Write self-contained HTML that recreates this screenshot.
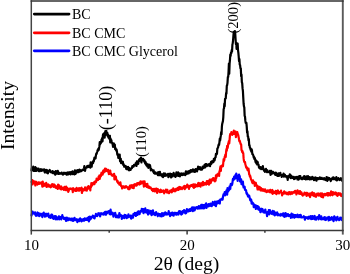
<!DOCTYPE html>
<html><head><meta charset="utf-8"><style>
html,body{margin:0;padding:0;background:#fff;}
svg{display:block;will-change:transform;}
text{font-family:"Liberation Serif",serif;fill:#000;}
</style></head><body>
<svg width="350" height="274" viewBox="0 0 350 274">
<rect x="0" y="0" width="350" height="274" fill="#fff"/>
<g fill="none" stroke-linejoin="round" stroke-linecap="round">
<polyline points="31.50,215.4 31.85,213.9 32.20,213.6 32.55,211.5 32.90,213.3 33.25,213.2 33.60,213.6 33.95,213.0 34.30,213.7 34.65,213.3 35.00,212.4 35.35,214.9 35.70,214.9 36.05,215.9 36.40,214.1 36.75,213.7 37.10,213.6 37.45,212.5 37.80,215.3 38.15,213.1 38.50,213.1 38.85,214.2 39.20,216.1 39.55,214.8 39.90,213.5 40.25,213.9 40.60,215.4 40.95,214.6 41.30,214.0 41.65,214.6 42.00,215.7 42.35,217.1 42.70,213.7 43.05,214.4 43.40,214.3 43.75,212.6 44.10,214.3 44.45,214.2 44.80,216.6 45.15,215.3 45.50,213.8 45.85,216.3 46.20,215.3 46.55,213.9 46.90,215.1 47.25,215.2 47.60,215.0 47.95,216.0 48.30,213.6 48.65,215.8 49.00,217.2 49.35,217.1 49.70,217.4 50.05,217.5 50.40,217.9 50.75,215.3 51.10,217.4 51.45,214.6 51.80,216.0 52.15,214.7 52.50,217.8 52.85,218.2 53.20,216.7 53.55,218.8 53.90,216.3 54.25,217.2 54.60,217.3 54.95,216.1 55.30,217.7 55.65,219.3 56.00,216.3 56.35,218.4 56.70,217.3 57.05,219.4 57.40,218.1 57.75,218.4 58.10,218.4 58.45,218.0 58.80,216.4 59.15,219.3 59.50,216.5 59.85,218.2 60.20,218.7 60.55,217.2 60.90,218.3 61.25,219.4 61.60,218.2 61.95,217.3 62.30,215.2 62.65,217.3 63.00,217.8 63.35,217.9 63.70,217.5 64.05,218.9 64.40,218.0 64.75,218.5 65.10,219.4 65.45,217.8 65.80,218.4 66.15,221.0 66.50,219.7 66.85,217.5 67.20,218.8 67.55,219.5 67.90,220.3 68.25,219.2 68.60,218.5 68.95,218.3 69.30,219.8 69.65,219.5 70.00,218.7 70.35,219.0 70.70,218.8 71.05,220.1 71.40,218.6 71.75,219.9 72.10,220.4 72.45,220.0 72.80,218.7 73.15,221.0 73.50,218.9 73.85,220.1 74.20,218.9 74.55,217.9 74.90,220.1 75.25,220.2 75.60,219.8 75.95,220.2 76.30,219.3 76.65,219.2 77.00,219.9 77.35,222.1 77.70,221.0 78.05,219.6 78.40,220.7 78.75,219.7 79.10,219.7 79.45,221.1 79.80,219.6 80.15,218.4 80.50,219.2 80.85,220.3 81.20,220.3 81.55,221.4 81.90,219.3 82.25,220.8 82.60,220.4 82.95,219.7 83.30,220.7 83.65,220.3 84.00,218.8 84.35,220.7 84.70,218.3 85.05,219.6 85.40,219.4 85.75,219.8 86.10,218.5 86.45,219.1 86.80,218.9 87.15,220.0 87.50,218.0 87.85,218.8 88.20,218.4 88.55,217.2 88.90,221.3 89.25,218.3 89.60,216.7 89.95,219.6 90.30,216.9 90.65,218.3 91.00,218.7 91.35,217.0 91.70,217.1 92.05,216.9 92.40,217.2 92.75,215.5 93.10,215.8 93.45,216.8 93.80,217.9 94.15,217.4 94.50,218.4 94.85,217.2 95.20,215.8 95.55,216.0 95.90,213.9 96.25,214.9 96.60,214.6 96.95,215.8 97.30,216.1 97.65,214.6 98.00,214.4 98.35,213.2 98.70,214.6 99.05,214.8 99.40,214.9 99.75,213.4 100.10,216.3 100.45,215.3 100.80,213.8 101.15,213.2 101.50,213.4 101.85,213.8 102.20,213.5 102.55,213.9 102.90,214.2 103.25,214.7 103.60,214.4 103.95,212.9 104.30,213.3 104.65,212.4 105.00,212.0 105.35,214.7 105.70,211.9 106.05,214.6 106.40,211.8 106.75,212.3 107.10,213.2 107.45,211.9 107.80,212.3 108.15,211.5 108.50,211.3 108.85,211.7 109.20,211.2 109.55,213.9 109.90,212.0 110.25,214.3 110.60,209.5 110.95,212.6 111.30,213.4 111.65,212.6 112.00,214.2 112.35,213.8 112.70,212.9 113.05,213.9 113.40,216.6 113.75,213.9 114.10,214.1 114.45,213.5 114.80,214.2 115.15,212.8 115.50,214.2 115.85,217.2 116.20,215.8 116.55,215.5 116.90,216.1 117.25,217.0 117.60,215.7 117.95,217.4 118.30,216.4 118.65,215.5 119.00,217.3 119.35,213.0 119.70,215.0 120.05,216.0 120.40,214.8 120.75,215.7 121.10,215.3 121.45,215.3 121.80,218.9 122.15,216.8 122.50,216.1 122.85,217.6 123.20,216.0 123.55,217.3 123.90,216.7 124.25,218.1 124.60,214.9 124.95,217.2 125.30,216.5 125.65,215.2 126.00,217.5 126.35,215.5 126.70,218.1 127.05,216.9 127.40,217.1 127.75,216.5 128.10,217.3 128.45,214.4 128.80,216.5 129.15,215.7 129.50,216.7 129.85,216.4 130.20,217.0 130.55,215.5 130.90,218.2 131.25,218.7 131.60,215.9 131.95,216.0 132.30,216.2 132.65,217.1 133.00,217.6 133.35,214.2 133.70,214.6 134.05,214.0 134.40,213.8 134.75,213.0 135.10,215.0 135.45,213.2 135.80,216.0 136.15,215.1 136.50,212.8 136.85,212.6 137.20,212.9 137.55,214.9 137.90,212.2 138.25,211.3 138.60,212.7 138.95,213.0 139.30,211.7 139.65,214.1 140.00,212.4 140.35,212.5 140.70,210.8 141.05,211.6 141.40,211.3 141.75,208.8 142.10,211.5 142.45,209.0 142.80,210.9 143.15,209.2 143.50,213.2 143.85,211.2 144.20,211.8 144.55,211.9 144.90,209.4 145.25,208.4 145.60,210.7 145.95,212.3 146.30,211.5 146.65,212.4 147.00,212.8 147.35,210.2 147.70,212.4 148.05,214.5 148.40,211.8 148.75,210.3 149.10,212.5 149.45,212.3 149.80,213.4 150.15,212.0 150.50,213.2 150.85,210.8 151.20,214.2 151.55,215.1 151.90,214.9 152.25,211.9 152.60,214.0 152.95,210.4 153.30,214.1 153.65,213.8 154.00,212.9 154.35,214.4 154.70,214.2 155.05,215.2 155.40,214.4 155.75,214.5 156.10,212.2 156.45,213.1 156.80,213.9 157.15,214.8 157.50,214.5 157.85,216.2 158.20,213.7 158.55,214.4 158.90,214.9 159.25,214.4 159.60,215.2 159.95,214.1 160.30,216.2 160.65,214.3 161.00,215.9 161.35,214.6 161.70,216.3 162.05,213.1 162.40,215.2 162.75,214.1 163.10,214.8 163.45,215.8 163.80,213.3 164.15,213.1 164.50,213.4 164.85,214.7 165.20,212.3 165.55,214.5 165.90,212.9 166.25,213.0 166.60,213.8 166.95,214.6 167.30,213.5 167.65,213.6 168.00,214.0 168.35,213.8 168.70,211.1 169.05,213.5 169.40,214.0 169.75,215.1 170.10,216.1 170.45,214.6 170.80,213.9 171.15,212.8 171.50,213.9 171.85,214.6 172.20,215.1 172.55,212.7 172.90,213.9 173.25,214.5 173.60,215.7 173.95,213.9 174.30,213.0 174.65,212.8 175.00,213.1 175.35,212.8 175.70,214.4 176.05,214.6 176.40,214.2 176.75,214.7 177.10,212.8 177.45,213.7 177.80,212.8 178.15,213.3 178.50,214.5 178.85,213.1 179.20,211.0 179.55,212.8 179.90,212.2 180.25,211.3 180.60,212.0 180.95,213.9 181.30,214.6 181.65,212.1 182.00,213.7 182.35,213.8 182.70,211.0 183.05,212.2 183.40,212.0 183.75,212.1 184.10,210.0 184.45,211.3 184.80,212.7 185.15,212.8 185.50,213.3 185.85,210.7 186.20,213.1 186.55,211.6 186.90,209.1 187.25,211.4 187.60,210.0 187.95,210.9 188.30,210.0 188.65,211.4 189.00,210.2 189.35,209.5 189.70,210.8 190.05,209.9 190.40,209.0 190.75,210.9 191.10,208.8 191.45,208.5 191.80,208.5 192.15,207.4 192.50,208.4 192.85,211.2 193.20,207.8 193.55,208.8 193.90,207.4 194.25,208.0 194.60,210.4 194.95,209.6 195.30,207.7 195.65,208.4 196.00,207.3 196.35,207.3 196.70,207.1 197.05,207.0 197.40,208.4 197.75,208.7 198.10,208.5 198.45,207.6 198.80,206.1 199.15,207.5 199.50,206.4 199.85,208.5 200.20,208.0 200.55,208.1 200.90,206.7 201.25,204.8 201.60,208.1 201.95,208.3 202.30,204.9 202.65,206.8 203.00,208.0 203.35,205.1 203.70,208.5 204.05,205.8 204.40,204.8 204.75,207.8 205.10,206.3 205.45,205.1 205.80,206.9 206.15,203.3 206.50,207.9 206.85,204.6 207.20,205.9 207.55,204.9 207.90,205.9 208.25,206.4 208.60,204.2 208.95,206.2 209.30,204.7 209.65,204.2 210.00,204.7 210.35,203.6 210.70,203.8 211.05,206.0 211.40,204.5 211.75,206.1 212.10,205.1 212.45,203.1 212.80,202.0 213.15,203.4 213.50,204.5 213.85,204.1 214.20,202.9 214.55,205.2 214.90,201.5 215.25,202.0 215.60,203.6 215.95,206.1 216.30,203.7 216.65,201.6 217.00,203.5 217.35,203.4 217.70,203.5 218.05,201.5 218.40,200.8 218.75,201.7 219.10,201.9 219.45,203.2 219.80,203.5 220.15,199.5 220.50,199.5 220.85,199.7 221.20,199.1 221.55,199.7 221.90,199.3 222.25,198.5 222.60,199.6 222.95,197.0 223.30,195.3 223.65,194.1 224.00,194.4 224.35,193.9 224.70,192.2 225.05,195.4 225.40,194.3 225.75,193.0 226.10,191.9 226.45,190.4 226.80,190.9 227.15,194.6 227.50,188.1 227.85,191.1 228.20,191.5 228.55,190.1 228.90,188.9 229.25,189.9 229.60,186.4 229.95,188.2 230.30,188.8 230.65,184.2 231.00,183.8 231.35,184.5 231.70,185.2 232.05,184.9 232.40,183.1 232.75,180.1 233.10,178.6 233.45,180.0 233.80,179.6 234.15,176.5 234.50,177.9 234.85,177.9 235.20,178.6 235.55,174.8 235.90,177.0 236.25,173.7 236.60,174.7 236.95,175.1 237.30,177.8 237.65,180.9 238.00,176.0 238.35,176.8 238.70,178.2 239.05,174.7 239.40,178.9 239.75,176.1 240.10,181.4 240.45,181.7 240.80,180.8 241.15,179.3 241.50,184.1 241.85,182.6 242.20,183.1 242.55,184.5 242.90,181.6 243.25,185.8 243.60,187.5 243.95,187.2 244.30,187.7 244.65,186.8 245.00,190.0 245.35,190.0 245.70,190.4 246.05,190.2 246.40,192.9 246.75,194.0 247.10,193.3 247.45,194.6 247.80,195.8 248.15,196.7 248.50,195.4 248.85,195.4 249.20,195.8 249.55,197.2 249.90,198.8 250.25,200.1 250.60,199.1 250.95,200.7 251.30,200.0 251.65,203.7 252.00,202.1 252.35,203.6 252.70,202.7 253.05,203.7 253.40,203.7 253.75,207.1 254.10,205.8 254.45,205.5 254.80,204.9 255.15,205.6 255.50,207.4 255.85,209.0 256.20,205.5 256.55,206.4 256.90,207.5 257.25,207.2 257.60,206.1 257.95,208.3 258.30,209.4 258.65,206.8 259.00,209.1 259.35,210.1 259.70,210.3 260.05,208.8 260.40,212.2 260.75,210.3 261.10,208.9 261.45,211.2 261.80,208.9 262.15,211.4 262.50,209.1 262.85,211.6 263.20,210.2 263.55,212.3 263.90,212.0 264.25,211.8 264.60,211.4 264.95,212.7 265.30,209.5 265.65,212.2 266.00,212.2 266.35,212.5 266.70,212.9 267.05,216.2 267.40,212.2 267.75,213.1 268.10,212.4 268.45,214.1 268.80,210.1 269.15,214.3 269.50,211.7 269.85,210.0 270.20,211.4 270.55,212.5 270.90,213.0 271.25,212.8 271.60,213.8 271.95,213.0 272.30,213.0 272.65,210.8 273.00,213.8 273.35,214.4 273.70,212.9 274.05,211.4 274.40,212.0 274.75,215.4 275.10,213.0 275.45,213.0 275.80,212.9 276.15,214.6 276.50,213.3 276.85,213.0 277.20,212.4 277.55,214.0 277.90,215.3 278.25,214.1 278.60,215.2 278.95,214.5 279.30,214.6 279.65,214.6 280.00,214.5 280.35,215.7 280.70,215.1 281.05,214.0 281.40,214.8 281.75,214.6 282.10,215.3 282.45,215.0 282.80,215.3 283.15,213.3 283.50,215.3 283.85,216.4 284.20,213.6 284.55,216.8 284.90,215.4 285.25,214.9 285.60,213.2 285.95,216.4 286.30,214.2 286.65,214.7 287.00,215.9 287.35,214.2 287.70,214.3 288.05,214.2 288.40,215.3 288.75,216.1 289.10,215.9 289.45,216.0 289.80,215.2 290.15,215.8 290.50,214.9 290.85,217.8 291.20,215.9 291.55,213.7 291.90,214.6 292.25,217.5 292.60,214.4 292.95,215.4 293.30,216.3 293.65,214.8 294.00,217.1 294.35,217.7 294.70,215.1 295.05,217.2 295.40,215.1 295.75,215.1 296.10,216.4 296.45,216.4 296.80,215.6 297.15,217.1 297.50,214.7 297.85,215.4 298.20,215.2 298.55,217.1 298.90,217.2 299.25,217.1 299.60,215.1 299.95,216.6 300.30,217.0 300.65,214.9 301.00,215.8 301.35,217.4 301.70,217.5 302.05,217.1 302.40,217.4 302.75,217.2 303.10,217.1 303.45,216.9 303.80,216.2 304.15,216.9 304.50,216.8 304.85,219.7 305.20,217.6 305.55,217.4 305.90,217.2 306.25,217.4 306.60,217.3 306.95,218.2 307.30,217.6 307.65,218.6 308.00,217.0 308.35,218.2 308.70,218.7 309.05,216.6 309.40,218.0 309.75,218.1 310.10,217.6 310.45,217.4 310.80,216.0 311.15,219.1 311.50,217.0 311.85,216.7 312.20,218.7 312.55,216.0 312.90,219.0 313.25,218.4 313.60,218.6 313.95,217.8 314.30,216.7 314.65,216.0 315.00,219.5 315.35,217.5 315.70,217.5 316.05,219.7 316.40,217.4 316.75,217.8 317.10,217.8 317.45,217.9 317.80,217.0 318.15,217.5 318.50,219.4 318.85,218.9 319.20,215.0 319.55,216.0 319.90,218.4 320.25,218.0 320.60,217.7 320.95,219.2 321.30,216.3 321.65,219.4 322.00,218.3 322.35,218.8 322.70,218.5 323.05,219.1 323.40,218.0 323.75,217.7 324.10,219.1 324.45,218.5 324.80,217.1 325.15,219.8 325.50,219.7 325.85,220.0 326.20,218.5 326.55,218.9 326.90,218.1 327.25,217.5 327.60,218.6 327.95,218.7 328.30,217.9 328.65,220.5 329.00,216.9 329.35,217.7 329.70,217.9 330.05,220.0 330.40,218.3 330.75,218.3 331.10,217.7 331.45,217.8 331.80,217.2 332.15,219.7 332.50,219.2 332.85,219.6 333.20,217.9 333.55,221.2 333.90,217.6 334.25,216.4 334.60,218.3 334.95,218.7 335.30,219.4 335.65,217.5 336.00,219.2 336.35,220.4 336.70,217.7 337.05,217.8 337.40,216.8 337.75,218.9 338.10,219.5 338.45,219.4 338.80,219.5 339.15,220.1 339.50,218.7 339.85,219.6 340.20,217.6 340.55,217.8 340.90,218.9 341.25,217.7 341.60,219.2 341.95,220.0" stroke="#0000ff" stroke-width="2.2"/>
<polyline points="31.50,181.8 31.85,182.3 32.20,180.0 32.55,184.3 32.90,180.5 33.25,181.6 33.60,183.2 33.95,181.3 34.30,181.5 34.65,181.7 35.00,183.5 35.35,185.5 35.70,183.0 36.05,181.7 36.40,183.7 36.75,182.5 37.10,183.2 37.45,184.6 37.80,182.5 38.15,183.4 38.50,182.4 38.85,183.3 39.20,183.8 39.55,182.5 39.90,183.3 40.25,183.5 40.60,183.1 40.95,182.6 41.30,182.4 41.65,183.8 42.00,183.8 42.35,186.6 42.70,181.5 43.05,184.4 43.40,184.8 43.75,186.0 44.10,185.1 44.45,183.7 44.80,184.7 45.15,185.4 45.50,184.5 45.85,185.8 46.20,182.9 46.55,187.0 46.90,186.8 47.25,184.9 47.60,186.0 47.95,185.4 48.30,184.5 48.65,185.6 49.00,186.7 49.35,185.3 49.70,185.3 50.05,185.7 50.40,186.3 50.75,187.3 51.10,185.3 51.45,186.6 51.80,186.4 52.15,184.2 52.50,185.8 52.85,186.2 53.20,186.4 53.55,186.8 53.90,184.4 54.25,186.7 54.60,186.0 54.95,185.2 55.30,187.4 55.65,187.7 56.00,186.3 56.35,187.9 56.70,186.7 57.05,187.2 57.40,186.1 57.75,189.0 58.10,184.6 58.45,187.3 58.80,188.2 59.15,185.4 59.50,187.4 59.85,187.6 60.20,188.6 60.55,189.1 60.90,187.4 61.25,186.5 61.60,189.4 61.95,189.3 62.30,187.7 62.65,188.6 63.00,188.7 63.35,189.0 63.70,188.7 64.05,190.0 64.40,186.8 64.75,189.7 65.10,189.1 65.45,188.6 65.80,190.1 66.15,186.5 66.50,190.2 66.85,189.4 67.20,187.9 67.55,189.6 67.90,188.9 68.25,191.9 68.60,191.1 68.95,189.8 69.30,188.6 69.65,188.8 70.00,189.1 70.35,188.9 70.70,188.5 71.05,188.9 71.40,189.2 71.75,189.0 72.10,188.8 72.45,188.6 72.80,192.1 73.15,188.1 73.50,188.5 73.85,190.0 74.20,189.3 74.55,190.0 74.90,190.4 75.25,190.9 75.60,190.4 75.95,188.6 76.30,190.8 76.65,187.9 77.00,189.6 77.35,189.2 77.70,188.6 78.05,190.3 78.40,189.5 78.75,190.7 79.10,188.2 79.45,190.6 79.80,190.2 80.15,189.8 80.50,188.3 80.85,189.4 81.20,188.1 81.55,187.6 81.90,193.0 82.25,190.6 82.60,191.4 82.95,189.2 83.30,190.3 83.65,190.3 84.00,190.2 84.35,189.6 84.70,189.3 85.05,187.4 85.40,190.1 85.75,189.8 86.10,190.3 86.45,188.7 86.80,190.6 87.15,188.1 87.50,187.0 87.85,189.0 88.20,187.2 88.55,186.1 88.90,187.2 89.25,187.6 89.60,186.8 89.95,186.8 90.30,190.4 90.65,186.6 91.00,187.1 91.35,183.0 91.70,185.3 92.05,185.5 92.40,184.0 92.75,183.1 93.10,184.2 93.45,183.2 93.80,182.5 94.15,184.2 94.50,184.1 94.85,182.6 95.20,181.4 95.55,182.1 95.90,182.1 96.25,181.5 96.60,178.7 96.95,179.6 97.30,180.0 97.65,179.9 98.00,179.9 98.35,179.2 98.70,176.5 99.05,176.6 99.40,175.5 99.75,178.8 100.10,176.4 100.45,176.4 100.80,176.5 101.15,174.3 101.50,172.7 101.85,173.1 102.20,173.0 102.55,174.7 102.90,173.4 103.25,170.5 103.60,172.5 103.95,172.4 104.30,169.9 104.65,171.0 105.00,168.5 105.35,171.3 105.70,170.4 106.05,168.9 106.40,169.7 106.75,170.9 107.10,169.9 107.45,171.1 107.80,171.5 108.15,169.8 108.50,170.7 108.85,174.2 109.20,171.8 109.55,170.8 109.90,172.2 110.25,170.6 110.60,174.2 110.95,173.5 111.30,174.8 111.65,174.9 112.00,174.7 112.35,175.8 112.70,175.3 113.05,174.6 113.40,174.7 113.75,175.8 114.10,173.8 114.45,179.5 114.80,175.7 115.15,178.1 115.50,177.1 115.85,176.7 116.20,179.5 116.55,179.8 116.90,180.5 117.25,181.8 117.60,181.0 117.95,182.6 118.30,183.2 118.65,182.7 119.00,183.2 119.35,184.6 119.70,184.4 120.05,184.8 120.40,182.3 120.75,185.3 121.10,186.0 121.45,185.7 121.80,186.5 122.15,188.5 122.50,186.8 122.85,187.7 123.20,186.3 123.55,186.5 123.90,187.1 124.25,186.6 124.60,187.8 124.95,186.8 125.30,187.6 125.65,186.3 126.00,186.1 126.35,187.1 126.70,186.6 127.05,187.1 127.40,187.1 127.75,187.3 128.10,188.8 128.45,189.1 128.80,188.4 129.15,187.2 129.50,189.1 129.85,185.9 130.20,185.4 130.55,187.7 130.90,187.3 131.25,187.0 131.60,187.1 131.95,185.2 132.30,185.5 132.65,187.9 133.00,187.5 133.35,185.4 133.70,188.1 134.05,184.7 134.40,185.0 134.75,185.8 135.10,184.1 135.45,184.7 135.80,184.9 136.15,184.5 136.50,185.7 136.85,185.2 137.20,183.2 137.55,183.5 137.90,184.3 138.25,183.9 138.60,183.0 138.95,184.2 139.30,184.5 139.65,182.8 140.00,184.3 140.35,181.5 140.70,181.4 141.05,183.7 141.40,182.1 141.75,181.9 142.10,182.7 142.45,182.2 142.80,183.3 143.15,181.3 143.50,182.5 143.85,186.7 144.20,183.4 144.55,181.3 144.90,184.4 145.25,184.6 145.60,185.9 145.95,184.8 146.30,184.2 146.65,186.8 147.00,186.4 147.35,183.9 147.70,186.9 148.05,186.1 148.40,187.7 148.75,186.3 149.10,187.8 149.45,187.3 149.80,188.0 150.15,187.5 150.50,187.3 150.85,188.0 151.20,188.8 151.55,188.7 151.90,190.1 152.25,189.1 152.60,189.5 152.95,191.1 153.30,189.2 153.65,189.8 154.00,188.8 154.35,189.6 154.70,191.3 155.05,190.0 155.40,191.3 155.75,188.8 156.10,188.6 156.45,190.4 156.80,188.8 157.15,192.9 157.50,191.6 157.85,189.1 158.20,190.3 158.55,190.0 158.90,191.0 159.25,190.6 159.60,191.6 159.95,192.2 160.30,190.6 160.65,189.7 161.00,191.4 161.35,190.7 161.70,192.0 162.05,190.7 162.40,191.7 162.75,191.2 163.10,190.7 163.45,190.5 163.80,191.6 164.15,193.4 164.50,191.7 164.85,190.8 165.20,191.6 165.55,191.0 165.90,189.6 166.25,191.2 166.60,192.4 166.95,190.6 167.30,189.8 167.65,191.4 168.00,192.7 168.35,191.8 168.70,191.9 169.05,193.2 169.40,192.5 169.75,191.6 170.10,190.7 170.45,191.0 170.80,190.8 171.15,191.7 171.50,189.9 171.85,192.3 172.20,190.8 172.55,190.2 172.90,191.3 173.25,188.3 173.60,189.4 173.95,189.5 174.30,190.9 174.65,189.5 175.00,191.3 175.35,189.3 175.70,190.1 176.05,188.8 176.40,190.5 176.75,189.0 177.10,189.7 177.45,188.5 177.80,187.8 178.15,188.6 178.50,189.9 178.85,187.6 179.20,187.0 179.55,188.2 179.90,189.2 180.25,187.2 180.60,187.6 180.95,188.3 181.30,187.7 181.65,188.2 182.00,189.1 182.35,187.7 182.70,187.6 183.05,188.3 183.40,187.4 183.75,186.4 184.10,186.2 184.45,186.0 184.80,189.2 185.15,187.0 185.50,187.6 185.85,187.7 186.20,185.9 186.55,187.5 186.90,186.2 187.25,184.5 187.60,186.4 187.95,185.5 188.30,186.2 188.65,186.9 189.00,188.9 189.35,185.9 189.70,186.2 190.05,186.7 190.40,186.4 190.75,186.0 191.10,185.0 191.45,185.1 191.80,185.9 192.15,184.8 192.50,185.3 192.85,184.6 193.20,187.2 193.55,184.3 193.90,187.9 194.25,185.2 194.60,184.7 194.95,184.5 195.30,186.6 195.65,186.8 196.00,184.8 196.35,186.0 196.70,185.4 197.05,185.3 197.40,185.7 197.75,186.3 198.10,183.3 198.45,182.9 198.80,185.5 199.15,185.2 199.50,185.9 199.85,183.3 200.20,184.0 200.55,186.7 200.90,183.4 201.25,185.1 201.60,183.7 201.95,184.0 202.30,182.7 202.65,185.4 203.00,181.8 203.35,182.4 203.70,182.6 204.05,184.8 204.40,183.6 204.75,183.9 205.10,183.1 205.45,183.2 205.80,183.4 206.15,184.6 206.50,183.0 206.85,181.0 207.20,183.9 207.55,182.6 207.90,181.2 208.25,182.2 208.60,181.2 208.95,184.6 209.30,181.7 209.65,179.7 210.00,182.2 210.35,180.8 210.70,183.1 211.05,181.7 211.40,179.3 211.75,180.6 212.10,179.7 212.45,179.9 212.80,179.8 213.15,178.0 213.50,180.4 213.85,178.9 214.20,178.6 214.55,180.3 214.90,181.4 215.25,178.0 215.60,180.6 215.95,175.4 216.30,178.1 216.65,176.1 217.00,176.2 217.35,174.4 217.70,174.3 218.05,174.1 218.40,173.5 218.75,173.9 219.10,175.8 219.45,171.3 219.80,171.2 220.15,168.3 220.50,166.4 220.85,170.8 221.20,166.1 221.55,166.0 221.90,166.1 222.25,166.5 222.60,164.8 222.95,166.2 223.30,162.4 223.65,159.0 224.00,160.9 224.35,159.7 224.70,156.9 225.05,156.3 225.40,154.5 225.75,156.8 226.10,151.8 226.45,149.2 226.80,150.6 227.15,145.9 227.50,148.3 227.85,147.0 228.20,143.6 228.55,142.7 228.90,141.1 229.25,143.3 229.60,139.6 229.95,135.3 230.30,133.9 230.65,134.8 231.00,134.0 231.35,132.2 231.70,133.8 232.05,132.7 232.40,134.8 232.75,133.5 233.10,132.4 233.45,132.7 233.80,130.7 234.15,133.9 234.50,133.0 234.85,131.6 235.20,132.6 235.55,131.6 235.90,137.2 236.25,132.0 236.60,134.0 236.95,133.9 237.30,132.1 237.65,133.9 238.00,134.1 238.35,136.1 238.70,137.4 239.05,139.7 239.40,141.2 239.75,140.7 240.10,142.0 240.45,143.4 240.80,144.4 241.15,144.5 241.50,150.0 241.85,150.5 242.20,152.0 242.55,151.3 242.90,153.1 243.25,153.1 243.60,158.2 243.95,160.8 244.30,162.0 244.65,162.3 245.00,162.0 245.35,164.4 245.70,165.3 246.05,167.1 246.40,167.9 246.75,167.2 247.10,168.2 247.45,169.9 247.80,170.4 248.15,170.3 248.50,168.6 248.85,171.5 249.20,174.5 249.55,174.6 249.90,176.6 250.25,176.0 250.60,177.4 250.95,179.2 251.30,179.9 251.65,180.3 252.00,181.8 252.35,182.6 252.70,183.2 253.05,180.3 253.40,182.1 253.75,182.7 254.10,183.2 254.45,182.2 254.80,185.8 255.15,183.7 255.50,185.2 255.85,182.8 256.20,185.2 256.55,185.8 256.90,185.4 257.25,187.5 257.60,189.5 257.95,186.3 258.30,186.6 258.65,189.5 259.00,188.5 259.35,187.8 259.70,187.0 260.05,189.3 260.40,188.9 260.75,190.5 261.10,188.1 261.45,189.0 261.80,189.0 262.15,189.2 262.50,190.7 262.85,190.6 263.20,189.2 263.55,189.9 263.90,189.9 264.25,191.1 264.60,190.1 264.95,189.3 265.30,190.1 265.65,190.5 266.00,191.6 266.35,192.0 266.70,192.1 267.05,191.2 267.40,190.4 267.75,191.6 268.10,190.9 268.45,190.5 268.80,191.5 269.15,191.7 269.50,192.2 269.85,190.5 270.20,189.8 270.55,192.0 270.90,190.6 271.25,192.6 271.60,190.6 271.95,191.1 272.30,190.0 272.65,193.9 273.00,191.4 273.35,191.9 273.70,191.5 274.05,191.8 274.40,192.9 274.75,192.2 275.10,192.2 275.45,193.4 275.80,190.9 276.15,193.5 276.50,194.0 276.85,191.1 277.20,192.8 277.55,191.3 277.90,190.5 278.25,191.8 278.60,193.2 278.95,193.5 279.30,192.4 279.65,192.0 280.00,192.4 280.35,192.2 280.70,192.4 281.05,190.6 281.40,192.9 281.75,193.0 282.10,195.4 282.45,193.9 282.80,193.1 283.15,193.4 283.50,193.6 283.85,192.6 284.20,191.3 284.55,192.6 284.90,193.1 285.25,193.5 285.60,192.7 285.95,192.5 286.30,193.2 286.65,193.5 287.00,194.0 287.35,193.2 287.70,193.9 288.05,192.5 288.40,194.3 288.75,193.4 289.10,192.1 289.45,193.2 289.80,193.6 290.15,192.4 290.50,194.2 290.85,193.0 291.20,193.7 291.55,192.2 291.90,193.4 292.25,193.7 292.60,192.3 292.95,192.5 293.30,192.0 293.65,192.7 294.00,192.3 294.35,192.7 294.70,192.1 295.05,190.9 295.40,190.9 295.75,191.8 296.10,192.7 296.45,194.5 296.80,193.2 297.15,191.7 297.50,190.4 297.85,193.0 298.20,192.6 298.55,191.4 298.90,193.6 299.25,192.8 299.60,192.5 299.95,191.0 300.30,194.0 300.65,193.2 301.00,193.0 301.35,192.3 301.70,193.0 302.05,194.7 302.40,194.1 302.75,195.6 303.10,194.8 303.45,194.1 303.80,194.7 304.15,194.0 304.50,192.5 304.85,193.4 305.20,194.3 305.55,193.1 305.90,193.6 306.25,192.9 306.60,195.8 306.95,192.8 307.30,193.2 307.65,193.3 308.00,195.2 308.35,195.4 308.70,193.8 309.05,194.9 309.40,193.5 309.75,194.4 310.10,197.1 310.45,195.4 310.80,194.5 311.15,193.2 311.50,194.2 311.85,193.3 312.20,192.4 312.55,195.2 312.90,195.2 313.25,194.9 313.60,195.7 313.95,193.0 314.30,196.1 314.65,193.7 315.00,195.1 315.35,195.2 315.70,195.9 316.05,196.8 316.40,195.2 316.75,194.5 317.10,193.7 317.45,195.1 317.80,194.0 318.15,193.5 318.50,194.7 318.85,195.6 319.20,194.6 319.55,193.8 319.90,195.0 320.25,193.7 320.60,193.4 320.95,196.3 321.30,195.1 321.65,196.8 322.00,193.3 322.35,195.8 322.70,194.6 323.05,197.4 323.40,194.4 323.75,194.2 324.10,195.0 324.45,194.7 324.80,194.0 325.15,195.3 325.50,195.1 325.85,195.2 326.20,194.6 326.55,193.5 326.90,193.4 327.25,194.7 327.60,193.1 327.95,195.7 328.30,193.9 328.65,193.1 329.00,194.9 329.35,193.7 329.70,194.9 330.05,193.9 330.40,195.4 330.75,193.2 331.10,191.4 331.45,192.0 331.80,191.9 332.15,194.1 332.50,195.3 332.85,193.3 333.20,192.2 333.55,194.2 333.90,194.0 334.25,193.2 334.60,194.0 334.95,193.6 335.30,192.5 335.65,194.4 336.00,193.2 336.35,192.8 336.70,193.6 337.05,195.5 337.40,195.9 337.75,195.5 338.10,193.6 338.45,193.2 338.80,194.6 339.15,194.2 339.50,194.6 339.85,193.4 340.20,193.8 340.55,193.7 340.90,195.6 341.25,196.0 341.60,194.4 341.95,195.8" stroke="#ff0000" stroke-width="2.2"/>
<polyline points="31.50,170.5 31.85,168.1 32.20,168.2 32.55,167.7 32.90,169.9 33.25,166.5 33.60,171.0 33.95,168.3 34.30,169.6 34.65,169.0 35.00,170.9 35.35,167.1 35.70,169.1 36.05,169.1 36.40,170.8 36.75,168.4 37.10,169.5 37.45,168.8 37.80,169.8 38.15,170.5 38.50,168.7 38.85,171.2 39.20,171.0 39.55,170.6 39.90,171.1 40.25,169.4 40.60,170.0 40.95,169.2 41.30,170.0 41.65,170.9 42.00,169.6 42.35,170.0 42.70,169.7 43.05,169.6 43.40,169.8 43.75,170.5 44.10,169.4 44.45,170.9 44.80,172.5 45.15,171.5 45.50,170.5 45.85,169.8 46.20,170.0 46.55,172.7 46.90,171.0 47.25,170.3 47.60,171.2 47.95,173.3 48.30,171.2 48.65,171.8 49.00,171.5 49.35,170.8 49.70,170.0 50.05,170.9 50.40,171.1 50.75,172.0 51.10,172.4 51.45,172.5 51.80,171.9 52.15,172.6 52.50,171.0 52.85,173.2 53.20,172.5 53.55,171.7 53.90,172.6 54.25,172.1 54.60,173.5 54.95,174.0 55.30,174.7 55.65,171.1 56.00,171.1 56.35,172.1 56.70,172.9 57.05,173.7 57.40,173.2 57.75,170.8 58.10,172.7 58.45,173.9 58.80,173.3 59.15,173.9 59.50,172.9 59.85,173.0 60.20,173.4 60.55,173.7 60.90,173.5 61.25,173.4 61.60,172.6 61.95,173.7 62.30,173.4 62.65,174.5 63.00,174.6 63.35,173.5 63.70,173.0 64.05,172.7 64.40,173.8 64.75,173.5 65.10,173.1 65.45,173.5 65.80,172.8 66.15,174.2 66.50,173.0 66.85,174.7 67.20,173.9 67.55,174.1 67.90,172.4 68.25,173.7 68.60,174.3 68.95,172.5 69.30,173.2 69.65,173.5 70.00,172.1 70.35,173.8 70.70,174.3 71.05,172.5 71.40,173.7 71.75,171.9 72.10,173.1 72.45,171.4 72.80,174.1 73.15,173.2 73.50,172.7 73.85,171.8 74.20,173.8 74.55,174.4 74.90,170.3 75.25,173.4 75.60,173.8 75.95,172.3 76.30,170.6 76.65,172.7 77.00,171.4 77.35,170.9 77.70,170.1 78.05,171.9 78.40,172.1 78.75,170.4 79.10,171.6 79.45,169.7 79.80,171.6 80.15,170.7 80.50,170.3 80.85,170.3 81.20,171.2 81.55,170.9 81.90,170.5 82.25,170.0 82.60,169.7 82.95,170.2 83.30,169.6 83.65,169.9 84.00,168.7 84.35,166.1 84.70,169.8 85.05,170.9 85.40,168.8 85.75,168.0 86.10,167.8 86.45,167.6 86.80,167.6 87.15,166.1 87.50,166.5 87.85,165.8 88.20,167.0 88.55,166.1 88.90,166.8 89.25,165.7 89.60,166.8 89.95,165.6 90.30,167.6 90.65,162.4 91.00,163.5 91.35,165.0 91.70,166.6 92.05,162.7 92.40,162.6 92.75,161.8 93.10,163.2 93.45,160.6 93.80,161.2 94.15,159.3 94.50,157.5 94.85,158.8 95.20,158.3 95.55,158.4 95.90,155.4 96.25,153.6 96.60,154.0 96.95,152.5 97.30,151.5 97.65,150.0 98.00,150.8 98.35,148.7 98.70,150.0 99.05,148.0 99.40,146.4 99.75,142.0 100.10,144.5 100.45,143.3 100.80,143.1 101.15,142.7 101.50,139.7 101.85,140.9 102.20,138.0 102.55,141.3 102.90,135.4 103.25,134.1 103.60,133.7 103.95,134.3 104.30,133.2 104.65,137.6 105.00,133.3 105.35,131.2 105.70,134.9 106.05,132.0 106.40,131.1 106.75,134.7 107.10,134.5 107.45,133.1 107.80,136.5 108.15,134.8 108.50,137.6 108.85,136.3 109.20,138.7 109.55,137.1 109.90,135.9 110.25,142.5 110.60,138.7 110.95,140.1 111.30,140.1 111.65,141.6 112.00,142.8 112.35,143.3 112.70,144.6 113.05,146.8 113.40,144.5 113.75,143.4 114.10,144.1 114.45,145.4 114.80,144.7 115.15,149.1 115.50,148.0 115.85,149.1 116.20,150.5 116.55,149.5 116.90,151.2 117.25,154.2 117.60,155.0 117.95,154.3 118.30,158.0 118.65,154.6 119.00,156.5 119.35,157.3 119.70,154.6 120.05,161.3 120.40,159.9 120.75,158.7 121.10,163.2 121.45,162.0 121.80,162.4 122.15,161.7 122.50,163.1 122.85,161.7 123.20,165.0 123.55,164.0 123.90,165.0 124.25,166.7 124.60,166.0 124.95,166.3 125.30,166.7 125.65,165.9 126.00,168.0 126.35,169.1 126.70,168.5 127.05,168.9 127.40,167.1 127.75,167.3 128.10,166.8 128.45,170.0 128.80,168.4 129.15,170.4 129.50,168.1 129.85,168.5 130.20,169.1 130.55,169.9 130.90,168.8 131.25,168.7 131.60,168.2 131.95,168.0 132.30,166.1 132.65,167.1 133.00,166.4 133.35,166.2 133.70,166.5 134.05,164.8 134.40,165.2 134.75,164.6 135.10,165.2 135.45,165.3 135.80,163.0 136.15,164.5 136.50,166.0 136.85,161.4 137.20,161.9 137.55,161.5 137.90,161.9 138.25,163.8 138.60,161.4 138.95,159.9 139.30,161.0 139.65,158.9 140.00,160.6 140.35,159.2 140.70,160.4 141.05,157.6 141.40,162.5 141.75,159.8 142.10,159.9 142.45,159.3 142.80,158.8 143.15,159.0 143.50,160.3 143.85,159.9 144.20,161.6 144.55,160.5 144.90,162.7 145.25,163.6 145.60,162.0 145.95,164.7 146.30,163.4 146.65,165.5 147.00,165.1 147.35,166.4 147.70,164.3 148.05,165.7 148.40,167.9 148.75,165.9 149.10,164.7 149.45,165.2 149.80,164.9 150.15,165.8 150.50,168.1 150.85,170.3 151.20,168.7 151.55,169.9 151.90,169.8 152.25,170.2 152.60,170.4 152.95,170.7 153.30,171.8 153.65,170.4 154.00,173.0 154.35,173.2 154.70,172.4 155.05,173.7 155.40,172.3 155.75,172.7 156.10,173.6 156.45,173.4 156.80,173.3 157.15,173.2 157.50,173.4 157.85,175.1 158.20,172.2 158.55,174.7 158.90,174.1 159.25,175.2 159.60,175.1 159.95,171.8 160.30,175.2 160.65,175.0 161.00,174.8 161.35,174.3 161.70,175.7 162.05,174.4 162.40,176.7 162.75,175.5 163.10,177.1 163.45,174.2 163.80,173.3 164.15,175.8 164.50,175.9 164.85,175.1 165.20,173.6 165.55,174.7 165.90,175.8 166.25,175.0 166.60,175.1 166.95,175.1 167.30,174.3 167.65,174.8 168.00,173.9 168.35,177.1 168.70,174.9 169.05,175.9 169.40,174.4 169.75,176.2 170.10,173.5 170.45,176.3 170.80,175.3 171.15,177.5 171.50,174.0 171.85,175.4 172.20,175.6 172.55,176.4 172.90,174.8 173.25,175.2 173.60,172.9 173.95,174.2 174.30,175.4 174.65,176.0 175.00,174.6 175.35,176.9 175.70,176.6 176.05,174.7 176.40,172.3 176.75,172.9 177.10,173.8 177.45,175.7 177.80,174.8 178.15,172.4 178.50,174.2 178.85,176.0 179.20,173.9 179.55,173.5 179.90,176.3 180.25,174.2 180.60,173.6 180.95,174.4 181.30,174.0 181.65,173.5 182.00,175.1 182.35,175.0 182.70,174.6 183.05,173.6 183.40,174.8 183.75,173.5 184.10,174.0 184.45,174.5 184.80,174.2 185.15,175.1 185.50,173.6 185.85,171.3 186.20,171.7 186.55,174.2 186.90,172.3 187.25,172.9 187.60,171.5 187.95,173.3 188.30,171.7 188.65,173.5 189.00,171.2 189.35,172.8 189.70,172.2 190.05,170.6 190.40,172.4 190.75,170.2 191.10,170.2 191.45,171.7 191.80,170.2 192.15,170.1 192.50,170.3 192.85,169.4 193.20,171.6 193.55,171.0 193.90,170.2 194.25,170.0 194.60,170.5 194.95,171.9 195.30,170.8 195.65,169.1 196.00,170.4 196.35,169.3 196.70,169.1 197.05,171.3 197.40,168.7 197.75,168.5 198.10,166.7 198.45,167.2 198.80,169.2 199.15,167.8 199.50,169.0 199.85,167.1 200.20,167.4 200.55,168.9 200.90,169.7 201.25,168.6 201.60,169.2 201.95,169.7 202.30,168.8 202.65,166.5 203.00,167.3 203.35,168.1 203.70,166.8 204.05,167.7 204.40,165.2 204.75,165.9 205.10,167.4 205.45,164.0 205.80,165.2 206.15,166.3 206.50,164.2 206.85,166.1 207.20,164.9 207.55,165.3 207.90,165.2 208.25,165.5 208.60,164.4 208.95,165.0 209.30,164.0 209.65,165.1 210.00,166.2 210.35,164.2 210.70,163.8 211.05,161.9 211.40,163.8 211.75,161.7 212.10,161.2 212.45,162.4 212.80,161.5 213.15,162.2 213.50,162.0 213.85,158.9 214.20,159.1 214.55,160.5 214.90,158.7 215.25,157.5 215.60,157.4 215.95,153.9 216.30,154.6 216.65,154.4 217.00,153.4 217.35,148.6 217.70,148.0 218.05,147.7 218.40,145.5 218.75,144.3 219.10,144.8 219.45,142.1 219.80,138.6 220.15,140.4 220.50,137.6 220.85,135.4 221.20,132.1 221.55,134.1 221.90,126.3 222.25,123.7 222.60,122.4 222.95,121.0 223.30,117.2 223.65,109.1 224.00,108.3 224.35,103.6 224.70,106.3 225.05,98.8 225.40,98.8 225.75,98.4 226.10,93.0 226.45,93.6 226.80,85.7 227.15,85.1 227.50,82.8 227.85,77.1 228.20,77.0 228.55,71.8 228.90,63.6 229.25,73.8 229.60,63.7 229.95,60.2 230.30,54.5 230.65,56.0 231.00,52.7 231.35,53.2 231.70,50.2 232.05,51.5 232.40,44.8 232.75,43.1 233.10,40.1 233.45,35.4 233.80,31.9 234.15,33.1 234.50,32.4 234.85,31.0 235.20,33.0 235.55,38.8 235.90,44.1 236.25,42.9 236.60,49.0 236.95,44.4 237.30,48.3 237.65,43.6 238.00,50.1 238.35,52.6 238.70,56.4 239.05,61.1 239.40,59.1 239.75,64.6 240.10,65.1 240.45,68.5 240.80,68.3 241.15,76.1 241.50,74.5 241.85,82.1 242.20,83.1 242.55,88.2 242.90,90.8 243.25,97.4 243.60,103.5 243.95,106.4 244.30,107.4 244.65,115.8 245.00,116.7 245.35,120.7 245.70,122.9 246.05,122.7 246.40,122.9 246.75,126.9 247.10,132.7 247.45,131.2 247.80,136.6 248.15,136.6 248.50,140.4 248.85,139.1 249.20,145.4 249.55,145.1 249.90,147.8 250.25,147.9 250.60,149.8 250.95,149.4 251.30,151.5 251.65,149.3 252.00,150.8 252.35,154.2 252.70,154.1 253.05,154.8 253.40,155.7 253.75,157.5 254.10,156.9 254.45,159.1 254.80,158.0 255.15,159.4 255.50,161.8 255.85,162.6 256.20,160.5 256.55,163.5 256.90,161.8 257.25,164.5 257.60,161.9 257.95,163.3 258.30,164.5 258.65,165.3 259.00,167.5 259.35,167.3 259.70,168.4 260.05,168.4 260.40,167.0 260.75,167.3 261.10,169.1 261.45,168.2 261.80,168.3 262.15,167.2 262.50,168.8 262.85,166.1 263.20,168.9 263.55,168.6 263.90,170.6 264.25,169.5 264.60,169.9 264.95,171.9 265.30,169.5 265.65,171.1 266.00,168.9 266.35,171.1 266.70,171.6 267.05,172.2 267.40,170.4 267.75,171.8 268.10,171.9 268.45,171.6 268.80,171.8 269.15,172.3 269.50,172.3 269.85,170.9 270.20,170.8 270.55,174.8 270.90,174.3 271.25,170.9 271.60,172.9 271.95,173.2 272.30,173.5 272.65,172.9 273.00,171.9 273.35,172.8 273.70,172.6 274.05,173.4 274.40,173.0 274.75,173.3 275.10,174.6 275.45,174.9 275.80,172.5 276.15,173.4 276.50,173.2 276.85,175.3 277.20,174.1 277.55,175.8 277.90,173.9 278.25,174.5 278.60,173.3 278.95,176.0 279.30,174.5 279.65,173.4 280.00,174.4 280.35,172.8 280.70,175.1 281.05,175.3 281.40,175.6 281.75,176.9 282.10,175.1 282.45,176.3 282.80,175.9 283.15,175.5 283.50,173.6 283.85,176.7 284.20,175.3 284.55,175.9 284.90,174.7 285.25,176.3 285.60,176.2 285.95,176.2 286.30,176.1 286.65,177.4 287.00,177.4 287.35,177.2 287.70,179.9 288.05,176.0 288.40,176.3 288.75,175.8 289.10,177.3 289.45,176.2 289.80,174.3 290.15,175.8 290.50,177.1 290.85,178.1 291.20,175.6 291.55,176.6 291.90,177.1 292.25,176.6 292.60,177.9 292.95,177.4 293.30,177.8 293.65,176.8 294.00,179.1 294.35,177.6 294.70,179.0 295.05,177.3 295.40,178.3 295.75,177.1 296.10,176.9 296.45,177.2 296.80,177.8 297.15,177.7 297.50,179.5 297.85,176.8 298.20,176.9 298.55,179.7 298.90,178.7 299.25,176.2 299.60,178.6 299.95,178.3 300.30,176.0 300.65,177.7 301.00,178.1 301.35,178.9 301.70,179.1 302.05,178.2 302.40,179.2 302.75,178.0 303.10,177.3 303.45,177.2 303.80,178.7 304.15,176.2 304.50,178.9 304.85,177.1 305.20,177.9 305.55,178.7 305.90,179.4 306.25,176.3 306.60,177.4 306.95,178.3 307.30,177.6 307.65,179.1 308.00,176.2 308.35,178.6 308.70,178.7 309.05,178.3 309.40,179.4 309.75,177.0 310.10,179.4 310.45,177.6 310.80,179.0 311.15,178.0 311.50,179.1 311.85,179.1 312.20,176.8 312.55,178.1 312.90,178.2 313.25,178.1 313.60,177.6 313.95,180.2 314.30,178.5 314.65,179.9 315.00,177.8 315.35,177.3 315.70,178.5 316.05,177.8 316.40,180.7 316.75,178.6 317.10,179.5 317.45,178.1 317.80,178.0 318.15,178.3 318.50,178.7 318.85,179.2 319.20,178.3 319.55,177.7 319.90,177.3 320.25,178.3 320.60,179.0 320.95,178.9 321.30,178.4 321.65,177.8 322.00,178.6 322.35,179.0 322.70,178.4 323.05,178.6 323.40,178.3 323.75,179.4 324.10,178.0 324.45,178.7 324.80,178.9 325.15,179.2 325.50,180.0 325.85,179.2 326.20,179.1 326.55,177.1 326.90,179.2 327.25,180.9 327.60,177.7 327.95,177.6 328.30,178.4 328.65,179.6 329.00,179.1 329.35,178.1 329.70,178.6 330.05,179.7 330.40,179.3 330.75,181.1 331.10,179.7 331.45,179.0 331.80,179.3 332.15,178.3 332.50,177.7 332.85,178.9 333.20,179.2 333.55,177.3 333.90,178.2 334.25,178.4 334.60,179.0 334.95,178.5 335.30,179.2 335.65,178.9 336.00,179.9 336.35,177.1 336.70,180.5 337.05,180.3 337.40,178.9 337.75,179.5 338.10,179.5 338.45,178.1 338.80,179.1 339.15,179.7 339.50,179.2 339.85,180.0 340.20,179.0 340.55,179.0 340.90,178.2 341.25,178.6 341.60,178.5 341.95,180.7" stroke="#000" stroke-width="2.2"/>
</g>
<g fill="none">
<path d="M31.3 0.2V234.6" stroke="#444" stroke-width="1.5"/>
<path d="M342.8 0.2V234.6" stroke="#5a5a5a" stroke-width="1.9"/>
<path d="M30.6 0.9H343.7" stroke="#333" stroke-width="1.5"/>
<path d="M30.6 230.5H343.7" stroke="#3a3a3a" stroke-width="1.4"/>
<path d="M109.2 230.5V232.8M187.1 230.5V234.6M264.9 230.5V232.8" stroke="#3a3a3a" stroke-width="1.5"/>
</g>
<g stroke-linecap="round" stroke-width="2.8">
<line x1="34.3" y1="14.1" x2="69" y2="14.1" stroke="#000"/>
<line x1="34.3" y1="32.8" x2="69" y2="32.8" stroke="#ff0000"/>
<line x1="34.3" y1="50.8" x2="69" y2="50.8" stroke="#0000ff"/>
</g>
<g font-size="14">
<text x="72" y="19">BC</text>
<text x="72" y="37.8">BC CMC</text>
<text x="72" y="55.9">BC CMC Glycerol</text>
</g>
<g font-size="15" text-anchor="middle">
<text x="31.6" y="249.8">10</text>
<text x="187.2" y="249.8">20</text>
<text x="342.8" y="249.8">30</text>
</g>
<text x="186.5" y="269.5" font-size="19.6" text-anchor="middle">2θ (deg)</text>
<text transform="translate(14,115.5) rotate(-90)" font-size="19.8" text-anchor="middle">Intensity</text>
<text transform="translate(111.6,108) rotate(-90)" font-size="18" text-anchor="middle">(-110)</text>
<text transform="translate(146,141.5) rotate(-90)" font-size="14.5" text-anchor="middle">(110)</text>
<text transform="translate(238.2,17.8) rotate(-90)" font-size="14.6" text-anchor="middle">(200)</text>
</svg>
</body></html>
